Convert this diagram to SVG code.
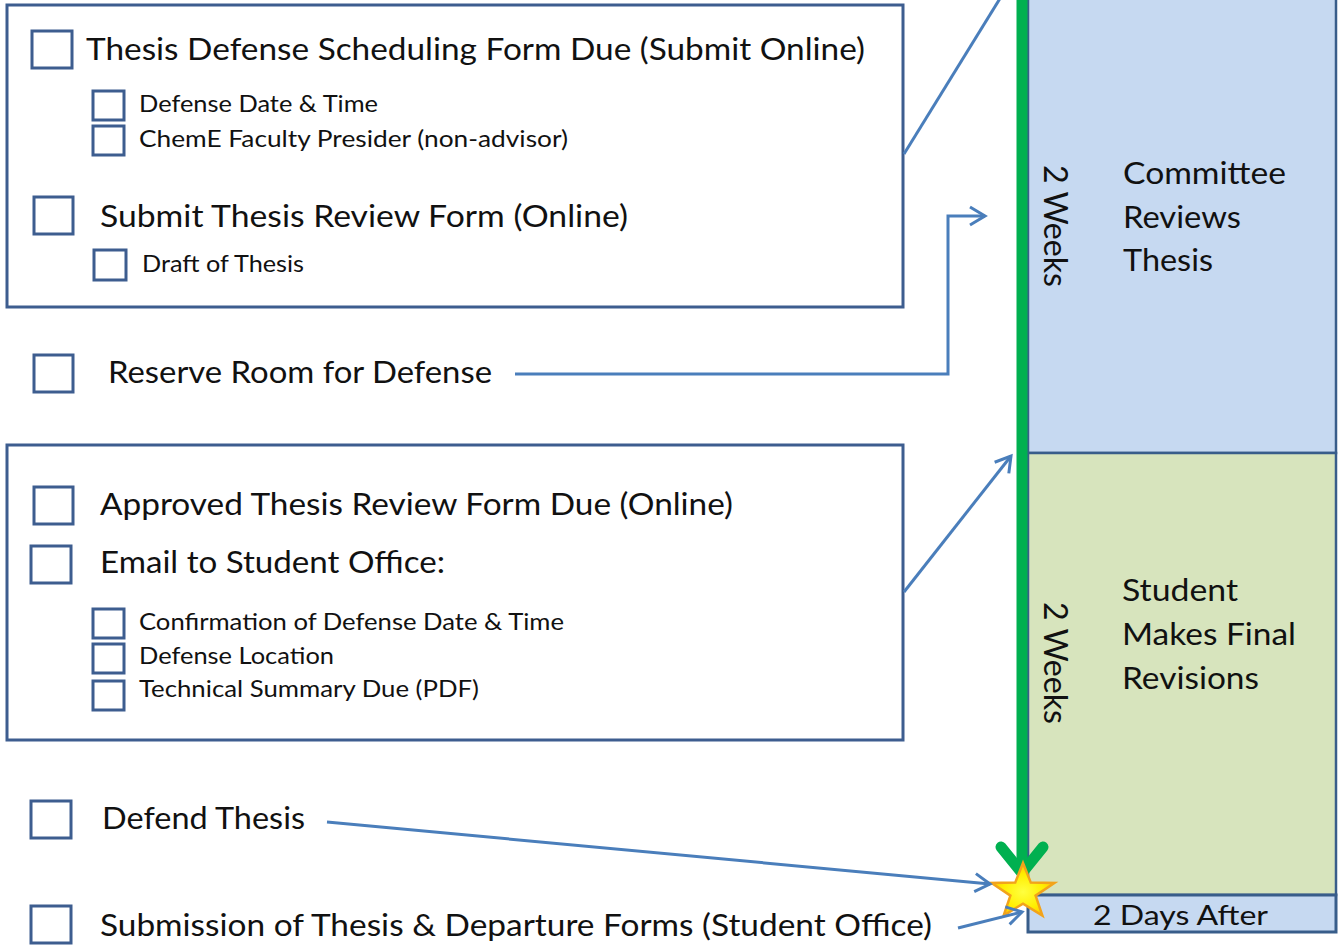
<svg xmlns="http://www.w3.org/2000/svg" width="1338" height="945" viewBox="0 0 1338 945">
<style>
.box{fill:#ffffff;stroke:#3D5D8F;stroke-width:3}
.cb{fill:#ffffff;stroke:#3D5D8F;stroke-width:3}
.big{font-family:Lato,"Liberation Sans",sans-serif;font-size:30px;fill:#111111}
.small{font-family:Lato,"Liberation Sans",sans-serif;font-size:23px;fill:#111111}
.tl{font-family:Lato,"Liberation Sans",sans-serif;font-size:30px;fill:#111111}
.conn{fill:none;stroke:#4A7EBB;stroke-width:3}
</style>
<defs>
<marker id="arr" markerUnits="userSpaceOnUse" viewBox="0 0 20 22" refX="17" refY="11" markerWidth="20" markerHeight="22" orient="auto">
<path d="M2,2 L17,11 L2,20" fill="none" stroke="#4A7EBB" stroke-width="3"/>
</marker>
<radialGradient id="starg" cx="50%" cy="55%" r="55%">
<stop offset="0" stop-color="#FFFF40"/>
<stop offset="0.6" stop-color="#FFEE00"/>
<stop offset="1" stop-color="#FFC000"/>
</radialGradient>
</defs>
<rect width="1338" height="945" fill="#ffffff"/>

<g id="timeline">
<rect x="1028" y="-5" width="308" height="458" fill="#C6D9F1" stroke="#385D8A" stroke-width="2.5"/>
<rect x="1028" y="453" width="308" height="442" fill="#D7E4BD" stroke="#385D8A" stroke-width="2.5"/>
<rect x="1028" y="895" width="308" height="37" fill="#C6D9F1" stroke="#385D8A" stroke-width="3"/>
<text class="tl" x="1123" y="184" textLength="163" lengthAdjust="spacingAndGlyphs">Committee</text>
<text class="tl" x="1123" y="228" textLength="118" lengthAdjust="spacingAndGlyphs">Reviews</text>
<text class="tl" x="1123" y="271" textLength="90" lengthAdjust="spacingAndGlyphs">Thesis</text>
<text class="tl" x="1122" y="601" textLength="116" lengthAdjust="spacingAndGlyphs">Student</text>
<text class="tl" x="1122" y="645" textLength="174" lengthAdjust="spacingAndGlyphs">Makes Final</text>
<text class="tl" x="1122" y="689" textLength="137" lengthAdjust="spacingAndGlyphs">Revisions</text>
<text class="tl" transform="translate(1044,165) rotate(90)" style="font-size:33px" textLength="122" lengthAdjust="spacingAndGlyphs">2 Weeks</text>
<text class="tl" transform="translate(1044,602) rotate(90)" style="font-size:33px" textLength="122" lengthAdjust="spacingAndGlyphs">2 Weeks</text>
<text class="tl" x="1093" y="925" style="font-size:27px" textLength="175" lengthAdjust="spacingAndGlyphs">2 Days After</text>
<line x1="1022" y1="0" x2="1022" y2="872" stroke="#00B050" stroke-width="11"/>
<polyline points="1001,847 1022,873 1043,847" fill="none" stroke="#00B050" stroke-width="11" stroke-linecap="round" stroke-linejoin="round"/>
<polygon points="1023,863 1030.8,882.6 1054.4,883 1035.6,895.6 1042.4,915.5 1023,903.6 1003.6,915.5 1010.4,895.6 991.6,883 1015.2,882.6" fill="url(#starg)" stroke="#F2A31B" stroke-width="2.5" stroke-linejoin="miter"/>
</g>

<g id="box1">
<rect class="box" x="7" y="5" width="896" height="302"/>
<rect class="cb" x="32" y="31" width="40" height="37"/>
<text class="big" x="86" y="60" textLength="779" lengthAdjust="spacingAndGlyphs">Thesis Defense Scheduling Form Due (Submit Online)</text>
<rect class="cb" x="93" y="91" width="31" height="29"/>
<text class="small" x="139" y="112" textLength="239" lengthAdjust="spacingAndGlyphs">Defense Date &amp; Time</text>
<rect class="cb" x="93" y="126" width="31" height="29"/>
<text class="small" x="139" y="147" textLength="429" lengthAdjust="spacingAndGlyphs">ChemE Faculty Presider (non-advisor)</text>
<rect class="cb" x="34" y="197" width="39" height="37"/>
<text class="big" x="100" y="227" textLength="528" lengthAdjust="spacingAndGlyphs">Submit Thesis Review Form (Online)</text>
<rect class="cb" x="94" y="250" width="32" height="30"/>
<text class="small" x="142" y="272" textLength="162" lengthAdjust="spacingAndGlyphs">Draft of Thesis</text>
</g>

<g id="reserve">
<rect class="cb" x="34" y="355" width="39" height="37"/>
<text class="big" x="108" y="383" textLength="384" lengthAdjust="spacingAndGlyphs">Reserve Room for Defense</text>
</g>

<g id="box2">
<rect class="box" x="7" y="445" width="896" height="295"/>
<rect class="cb" x="34" y="487" width="39" height="37"/>
<text class="big" x="100" y="515" textLength="633" lengthAdjust="spacingAndGlyphs">Approved Thesis Review Form Due (Online)</text>
<rect class="cb" x="31" y="546" width="40" height="37"/>
<text class="big" x="100" y="573" textLength="345" lengthAdjust="spacingAndGlyphs">Email to Student Office:</text>
<rect class="cb" x="93" y="609" width="31" height="29"/>
<text class="small" x="139" y="630" textLength="425" lengthAdjust="spacingAndGlyphs">Confirmation of Defense Date &amp; Time</text>
<rect class="cb" x="93" y="644" width="31" height="29"/>
<text class="small" x="139" y="664" textLength="195" lengthAdjust="spacingAndGlyphs">Defense Location</text>
<rect class="cb" x="93" y="681" width="31" height="29"/>
<text class="small" x="139" y="697" textLength="340" lengthAdjust="spacingAndGlyphs">Technical Summary Due (PDF)</text>
</g>

<g id="defend">
<rect class="cb" x="31" y="801" width="40" height="37"/>
<text class="big" x="102" y="829" textLength="203" lengthAdjust="spacingAndGlyphs">Defend Thesis</text>
</g>

<g id="submission">
<rect class="cb" x="31" y="906" width="40" height="37"/>
<text class="big" x="100" y="936" textLength="832" lengthAdjust="spacingAndGlyphs">Submission of Thesis &amp; Departure Forms (Student Office)</text>
</g>

<g id="connectors">
<line class="conn" x1="904" y1="154" x2="1004" y2="-8"/>
<polyline class="conn" points="515,374 948,374 948,216 985,216" marker-end="url(#arr)"/>
<line class="conn" x1="904" y1="592" x2="1011" y2="456" marker-end="url(#arr)"/>
<line class="conn" x1="327" y1="822" x2="990" y2="884" marker-end="url(#arr)"/>
<line class="conn" x1="958" y1="928" x2="1022" y2="912" marker-end="url(#arr)"/>
</g>
</svg>
